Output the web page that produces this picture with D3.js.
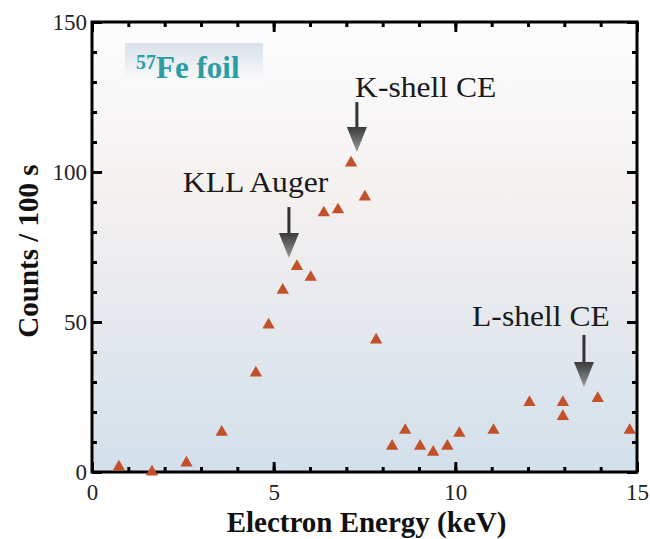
<!DOCTYPE html>
<html>
<head>
<meta charset="utf-8">
<script src="https://cdn.jsdelivr.net/npm/d3@7"></script>
<style>
  html, body { margin: 0; padding: 0; background: #ffffff; }
  svg { display: block; }
</style>
</head>
<body>
<script>
// ---- data ----
const energy = [0.74, 1.65, 2.6, 3.57, 4.51, 4.86, 5.25, 5.64, 6.02, 6.38, 6.77, 7.13, 7.51, 7.82,
                8.26, 8.62, 9.03, 9.39, 9.78, 10.11, 11.05, 12.04, 12.96, 12.96, 13.92, 14.8];
const counts = [1.7, 0, 3, 13.3, 33, 49, 60.6, 68.5, 64.9, 86.4, 87.4, 103, 91.7, 44,
                8.6, 13.9, 8.6, 6.6, 8.6, 12.9, 13.9, 23.2, 23.2, 18.5, 24.5, 13.9];
const xMajorTicks = [0, 5, 10, 15];
const yMajorTicks = [0, 50, 100, 150];
const annLabels = ["K-shell CE", "KLL Auger", "L-shell CE"];
const annTextX = [7.24, 2.5, 10.46];
const annTextY = [125, 93.3, 48.7];
const arrowX = [7.29, 5.42, 13.54];
const arrowTop = [123.3, 88.3, 45.7];
const arrowTip = [106.7, 71.3, 28.3];
const sampleLabel = "Fe foil";
const sampleIso = "57";
const xTitle = "Electron Energy (keV)";
const yTitle = "Counts / 100 s";

// ---- layout ----
const W = 650, H = 539;
const L = 92, R = 637, T = 22, B = 472;
const FONT = "Times";

const svg = d3.select("body").append("svg").attr("width", W).attr("height", H);
const defs = svg.append("defs");

const bg = defs.append("linearGradient").attr("id", "bg").attr("x1", 0).attr("y1", 0).attr("x2", 0).attr("y2", 1);
bg.append("stop").attr("offset", "0%").attr("stop-color", "#fdfdfd");
bg.append("stop").attr("offset", "40%").attr("stop-color", "#f4f0f0");
bg.append("stop").attr("offset", "100%").attr("stop-color", "#d2e0eb");

const boxG = defs.append("linearGradient").attr("id", "boxg").attr("x1", 0).attr("y1", 0).attr("x2", 0).attr("y2", 1);
boxG.append("stop").attr("offset", "0%").attr("stop-color", "#d9e1ea");
boxG.append("stop").attr("offset", "100%").attr("stop-color", "#fbfbfb");

const headG = defs.append("linearGradient").attr("id", "headg").attr("x1", 0).attr("y1", 0).attr("x2", 0).attr("y2", 1);
headG.append("stop").attr("offset", "0%").attr("stop-color", "#3a3a3a");
headG.append("stop").attr("offset", "100%").attr("stop-color", "#9a9a9a");

const x = d3.scaleLinear().domain([0, 15]).range([L, R]);
const y = d3.scaleLinear().domain([0, 150]).range([B, T]);

const setFont = (sel, size, bold) => sel
  .style("font-family", FONT)
  .style("font-size", size + "px")
  .style("font-weight", bold ? "bold" : "normal");

// plot background
svg.append("rect").attr("x", L).attr("y", T).attr("width", R - L).attr("height", B - T)
  .attr("fill", "url(#bg)");

// sample label box
svg.append("rect").attr("x", 125).attr("y", 43).attr("width", 138).attr("height", 38)
  .attr("fill", "url(#boxg)");
const lab = svg.append("text").attr("x", 136).attr("y", 78).attr("fill", "#2a9ea4")
  .call(setFont, 31, true);
lab.append("tspan").attr("dy", -9).style("font-size", "20px").text(sampleIso);
lab.append("tspan").attr("dy", 9).style("font-size", "31px").text(sampleLabel);

// axes: minor ticks
const minorStyle = g => {
  g.select(".domain").remove();
  g.selectAll("line").attr("stroke", "#000").attr("stroke-width", 3);
  g.selectAll("text").remove();
};
const xMinor = d3.range(0, 16, 1);
const yMinor = d3.range(0, 151, 10);
svg.append("g").attr("transform", `translate(0,${B})`)
  .call(d3.axisBottom(x).tickValues(xMinor).tickSize(-5)).call(minorStyle);
svg.append("g").attr("transform", `translate(0,${T})`)
  .call(d3.axisTop(x).tickValues(xMinor).tickSize(-5)).call(minorStyle);
svg.append("g").attr("transform", `translate(${L},0)`)
  .call(d3.axisLeft(y).tickValues(yMinor).tickSize(-5)).call(minorStyle);
svg.append("g").attr("transform", `translate(${R},0)`)
  .call(d3.axisRight(y).tickValues(yMinor).tickSize(-5)).call(minorStyle);

// major ticks
const majorStyle = keepText => g => {
  g.select(".domain").remove();
  g.selectAll("line").attr("stroke", "#000").attr("stroke-width", 3);
  if (!keepText) g.selectAll("text").remove();
  else g.selectAll("text").attr("fill", "#222").call(setFont, 23, false);
};
svg.append("g").attr("transform", `translate(0,${B})`)
  .call(d3.axisBottom(x).tickValues(xMajorTicks).tickSize(-10).tickPadding(12).tickFormat(d3.format("d")))
  .call(majorStyle(true));
svg.append("g").attr("transform", `translate(0,${T})`)
  .call(d3.axisTop(x).tickValues(xMajorTicks).tickSize(-10)).call(majorStyle(false));
svg.append("g").attr("transform", `translate(${L},0)`)
  .call(d3.axisLeft(y).tickValues(yMajorTicks).tickSize(-10).tickPadding(5).tickFormat(d3.format("d")))
  .call(majorStyle(true));
svg.append("g").attr("transform", `translate(${R},0)`)
  .call(d3.axisRight(y).tickValues(yMajorTicks).tickSize(-10)).call(majorStyle(false));

// frame
svg.append("rect").attr("x", L).attr("y", T).attr("width", R - L).attr("height", B - T)
  .attr("fill", "none").attr("stroke", "#000").attr("stroke-width", 3);

// annotations
annLabels.forEach((t, i) => {
  const tx = x(annTextX[i]), ty = y(annTextY[i]);
  svg.append("text").attr("transform", `translate(${tx},${ty}) scale(1.09,1)`)
    .attr("fill", "#1a1a1a").call(setFont, 29, false).text(t);
  const ax = x(arrowX[i]), a0 = y(arrowTop[i]), a1 = y(arrowTip[i]);
  const headLen = 25, headHalf = 10;
  svg.append("line").attr("x1", ax).attr("x2", ax).attr("y1", a0).attr("y2", a1 - headLen + 1)
    .attr("stroke", "#333").attr("stroke-width", 3);
  svg.append("path")
    .attr("d", `M${ax - headHalf},${a1 - headLen}L${ax + headHalf},${a1 - headLen}L${ax},${a1}Z`)
    .attr("fill", "url(#headg)");
});

// data points
svg.append("g").selectAll("path").data(energy.map((e, i) => [e, counts[i]])).join("path")
  .attr("transform", d => `translate(${x(d[0])},${y(d[1])})`)
  .attr("d", d3.symbol(d3.symbolTriangle, 66))
  .attr("fill", "#c2502a");

// axis titles
svg.append("text").attr("x", (L + R) / 2 + 2).attr("y", 532).attr("text-anchor", "middle")
  .attr("fill", "#111").call(setFont, 29, true).text(xTitle);
svg.append("text").attr("transform", `translate(38,${(T + B) / 2 + 4}) rotate(-90)`)
  .attr("text-anchor", "middle").attr("fill", "#111").call(setFont, 29, true).text(yTitle);
</script>
</body>
</html>
